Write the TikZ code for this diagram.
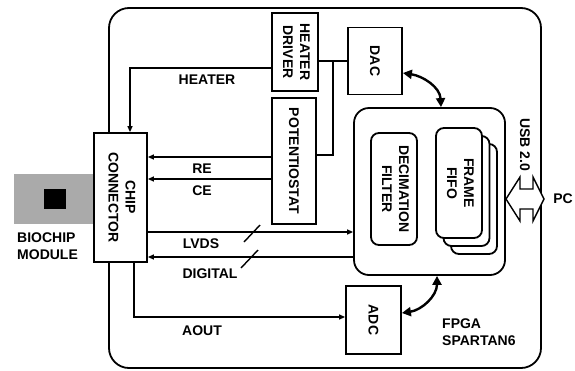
\documentclass[tikz,border=0pt]{standalone}
\usepackage{fontspec}
\setmainfont{Liberation Sans}
\usepackage{graphicx}
\usetikzlibrary{arrows.meta,calc}
\begin{document}
\begin{tikzpicture}[x=1pt,y=-1pt,
  txt/.style={font=\bfseries\fontsize{14}{17}\selectfont, inner sep=0pt},
  box/.style={draw,line width=1.8pt,fill=white,inner sep=0pt,txt,align=center},
  rbox/.style={box,rounded corners=8pt},
  conn/.style={line width=1.4pt},
  arr/.style={-{Triangle[length=6pt,width=5pt]}},
  rarr/.style={{Triangle[length=6pt,width=5pt]}-},
  curvearrow/.style={line width=2.4pt,{Triangle[length=9pt,width=9pt]}-{Triangle[length=9pt,width=9pt]}}
]
\useasboundingbox (0,0) rectangle (575,370);

% board outline
\node[draw,line width=1.8pt,rounded corners=20pt,minimum width=432,minimum height=360,inner sep=0pt] (board) at (325,188) {};

% biochip module
\node[fill={rgb,255:red,170;green,170;blue,170},minimum width=80,minimum height=50,inner sep=0pt] (bio) at (54,199) {};
\node[fill=black,minimum width=22,minimum height=20,inner sep=0pt] (chip) at (55,199) {};
\node[txt,anchor=west,align=left] (lbio) at (17,246) {BIOCHIP\\MODULE};

% blocks
\node[box,minimum width=53,minimum height=129] (cc) at (120.5,197.5) {\rotatebox{-90}{\begin{tabular}{@{}c@{}}CHIP\\CONNECTOR\end{tabular}}};
\node[box,minimum width=46,minimum height=78] (hd) at (295,52) {\rotatebox{-90}{\begin{tabular}{@{}c@{}}HEATER\\DRIVER\end{tabular}}};
\node[box,minimum width=44,minimum height=126] (pot) at (294,161) {\rotatebox{-90}{POTENTIOSTAT}};
\node[box,minimum width=54,minimum height=67] (dac) at (375,61) {\rotatebox{-90}{DAC}};
\node[box,minimum width=55,minimum height=68] (adc) at (373.5,320) {\rotatebox{-90}{ADC}};
\node[box,rounded corners=15pt,minimum width=151,minimum height=167] (fpga) at (429.5,191.5) {};
\node[rbox,minimum width=46,minimum height=112] (dec) at (394,189) {\rotatebox{-90}{\begin{tabular}{@{}c@{}}DECIMATION\\FILTER\end{tabular}}};
\node[rbox,minimum width=46,minimum height=110] (fifo3) at (474,199) {};
\node[rbox,minimum width=46,minimum height=110] (fifo2) at (466.5,191) {};
\node[rbox,minimum width=46,minimum height=110] (fifo1) at (459,183) {\rotatebox{-90}{\begin{tabular}{@{}c@{}}FRAME\\FIFO\end{tabular}}};

% connectors
\draw[conn,arr] ([yshift=-16pt]hd.west) -| ([xshift=9.5pt]cc.north);
\coordinate (re) at ([yshift=4pt]pot.west);
\draw[conn,arr] (re) -- (re -| cc.east);
\coordinate (ce) at ([yshift=-18pt]pot.west);
\draw[conn,arr] (ce) -- (ce -| cc.east);
\coordinate (lv) at ([yshift=-34.5pt]cc.east);
\draw[conn,arr] (lv) -- (lv -| fpga.west);
\coordinate (dg) at ([yshift=-59.5pt]cc.east);
\draw[conn,rarr] (dg) -- (dg -| fpga.west);
\draw[conn,arr] ([xshift=13.5pt]cc.south) |- ([yshift=3pt]adc.west);
\draw[conn] (hd.east |- dac.west) -- (dac.west);
\coordinate (j) at ($(hd.east)!0.5!(dac.west)$);
\draw[conn] (j |- dac.west) |- ([yshift=6pt]pot.east);

% bus slashes
\draw[conn] (244,242) -- (260,225);
\draw[conn] (241,268) -- (258,250);

% curved arrows
\draw[curvearrow] ([yshift=-12pt]dac.east) .. controls +(20,3) and +(-1,-20) .. ([xshift=11.5pt]fpga.north);
\draw[curvearrow] ([yshift=7pt]adc.east) .. controls +(20,-3) and +(0,20) .. ([xshift=7.5pt]fpga.south);

% USB double arrow
\draw[line width=1.4pt,fill=white] (506,199) -- (520,177) -- (520,189) -- (533,189) -- (533,177) -- (544,199) -- (533,221) -- (533,209) -- (520,209) -- (520,221) -- cycle;

% labels
\node[txt] (lheater) at (207,80) {HEATER};
\node[txt] (lre) at (202,169) {RE};
\node[txt] (lce) at (202,191) {CE};
\node[txt] (llvds) at (201,244) {LVDS};
\node[txt] (ldig) at (210,274) {DIGITAL};
\node[txt] (laout) at (202,331) {AOUT};
\node[txt,rotate=-90] (lusb) at (525,145) {USB 2.0};
\node[txt] (lpc) at (563,199) {PC};
\node[txt,anchor=west,align=left] (lfpga) at (442,332) {FPGA\\SPARTAN6};
\end{tikzpicture}
\end{document}
